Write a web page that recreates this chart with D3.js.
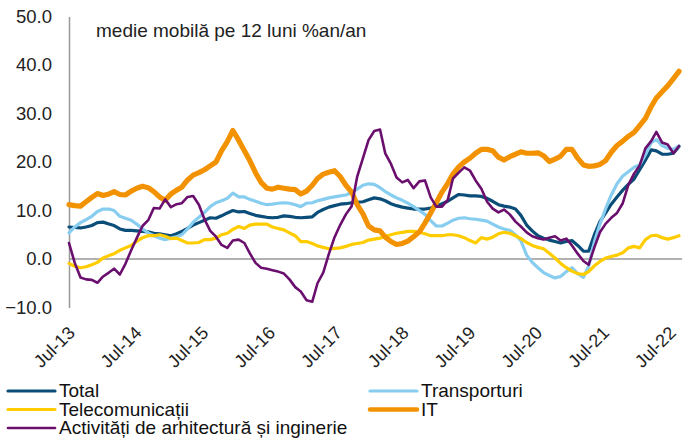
<!DOCTYPE html>
<html>
<head>
<meta charset="utf-8">
<script src="https://cdn.jsdelivr.net/npm/d3@7"></script>
<style>
  body { margin: 0; background: #fff; }
  svg { display: block; font-family: "Liberation Sans", Arial, sans-serif; }
</style>
</head>
<body>
<svg id="chart" width="682" height="441"></svg>
<script>
// monthly data, Jul-13 .. Jul-22 (109 months)
const startMonth = new Date(2013, 6, 1);
const tickLabels = ["Jul-13", "Jul-14", "Jul-15", "Jul-16", "Jul-17", "Jul-18", "Jul-19", "Jul-20", "Jul-21", "Jul-22"];
const yTicks = [-10, 0, 10, 20, 30, 40, 50];

const total = [6.6, 6.5, 6.4, 6.6, 6.9, 7.5, 7.6, 7.2, 6.9, 6.2, 5.9, 5.9, 5.8, 5.7, 5.6, 5.3, 5.2, 5.0, 4.8, 5.2,
  5.7, 6.3, 7.0, 7.5, 8.0, 8.5, 8.4, 8.9, 9.5, 10.0, 9.7, 9.8, 9.4, 9.0, 8.8, 8.6, 8.5, 8.6, 8.9, 8.8,
  8.6, 8.5, 8.6, 8.7, 9.6, 10.2, 10.7, 11.0, 11.3, 11.4, 11.6, 11.7, 11.8, 12.2, 12.6, 12.4, 12.0, 11.4, 11.0, 10.7,
  10.5, 10.3, 10.3, 10.3, 10.5, 10.9, 11.4, 11.9, 12.6, 13.3, 13.2, 13.0, 13.0, 12.9, 12.5, 11.9, 11.2, 10.9, 10.7, 10.3,
  9.0, 7.0, 5.8, 4.8, 4.3, 3.9, 3.6, 3.3, 3.6, 3.8, 2.8, 1.6, 1.6, 5.0, 7.7, 9.5, 11.3, 12.8, 14.2, 15.4,
  16.5, 18.4, 20.4, 22.5, 22.3, 21.6, 21.6, 21.8, 23.2];

const transporturi = [5.4, 6.6, 7.5, 8.1, 8.8, 9.8, 10.3, 10.3, 10.0, 8.8, 8.4, 8.0, 7.2, 6.2, 5.4, 4.8, 4.3, 4.0, 4.3, 4.6,
  5.0, 6.2, 7.6, 8.6, 9.6, 10.8, 11.6, 12.0, 12.5, 13.6, 12.8, 12.8, 12.3, 11.9, 11.5, 11.2, 11.3, 11.5, 11.6, 11.5,
  11.2, 10.8, 11.5, 11.6, 12.0, 12.3, 12.6, 12.8, 13.0, 13.2, 13.7, 14.4, 15.2, 15.5, 15.4, 14.7, 13.9, 13.2, 12.6, 12.1,
  11.5, 10.8, 10.0, 9.2, 7.9, 6.8, 6.8, 7.4, 8.0, 8.4, 8.5, 8.3, 8.2, 8.0, 7.8, 7.2, 6.6, 6.2, 5.9, 5.0,
  3.8, 0.8, -0.7, -1.8, -2.8, -3.4, -3.9, -3.6, -2.6, -1.8, -3.0, -3.8, -1.5, 3.5, 7.2, 10.4, 13.2, 15.5, 17.1, 18.0,
  18.9, 19.4, 21.5, 24.0, 24.6, 23.4, 22.8, 22.6, 23.3];

const telecomunicatii = [-0.9, -1.5, -1.8, -1.6, -1.2, -0.7, 0.2, 0.7, 1.1, 1.8, 2.3, 2.8, 3.6, 4.4, 4.8, 4.8, 5.0, 4.7, 4.2, 4.3,
  3.8, 3.3, 3.3, 3.4, 4.0, 4.0, 4.3, 5.0, 5.3, 6.1, 6.7, 6.3, 7.0, 7.2, 7.2, 7.2, 6.6, 6.3, 6.0, 5.4,
  4.8, 3.6, 3.6, 3.2, 2.7, 2.4, 2.1, 2.2, 2.3, 2.6, 3.0, 3.2, 3.4, 3.9, 4.1, 4.3, 4.7, 5.0, 5.3, 5.5,
  5.7, 5.7, 5.5, 5.2, 4.8, 4.8, 4.8, 5.0, 5.0, 4.8, 4.4, 3.8, 3.3, 4.4, 4.1, 4.5, 5.2, 5.5, 5.3, 4.8,
  4.2, 3.4, 2.8, 2.4, 2.1, 1.2, 0.2, -0.9, -1.8, -2.5, -3.0, -3.2, -2.6, -1.4, -0.5, 0.2, 0.5, 0.8, 1.3, 2.3,
  2.6, 2.3, 4.0, 4.8, 4.9, 4.4, 4.1, 4.4, 4.8];

const it = [11.2, 11.0, 10.9, 11.8, 12.7, 13.5, 13.1, 13.4, 13.9, 13.3, 13.2, 14.0, 14.6, 15.0, 14.7, 13.9, 12.8, 12.1, 13.4, 14.2,
  14.8, 16.3, 17.3, 17.8, 18.4, 19.2, 20.0, 22.3, 24.2, 26.5, 24.5, 22.3, 20.3, 17.8, 15.8, 14.6, 14.4, 14.8, 14.6, 14.4,
  14.3, 13.4, 14.0, 15.2, 16.6, 17.5, 17.9, 18.2, 17.0, 15.2, 13.8, 11.2, 9.3, 6.8, 6.0, 5.8, 4.5, 3.6, 3.0, 3.2,
  3.7, 4.6, 5.6, 7.4, 9.5, 11.6, 13.8, 15.6, 17.5, 19.0, 20.0, 20.8, 21.8, 22.6, 22.6, 22.3, 21.0, 20.4, 21.1, 21.6,
  22.1, 21.8, 21.8, 21.9, 21.3, 20.1, 20.6, 21.2, 22.6, 22.6, 20.8, 19.4, 19.1, 19.2, 19.5, 20.3, 22.0, 23.4, 24.3, 25.3,
  26.1, 27.5, 29.0, 31.4, 33.2, 34.5, 35.7, 37.2, 38.7];

const arhitectura = [3.3, -0.8, -3.8, -4.2, -4.3, -4.9, -3.6, -2.8, -2.0, -3.2, -1.0, 1.8, 4.3, 6.8, 8.0, 10.5, 10.4, 12.3, 10.7, 11.3,
  11.5, 12.8, 13.0, 11.2, 8.2, 5.8, 4.6, 2.9, 2.3, 3.8, 4.0, 3.3, 1.2, -0.8, -1.8, -2.0, -2.3, -2.6, -3.0, -4.2,
  -5.8, -6.7, -8.5, -8.8, -5.0, -2.8, 1.0, 4.5, 7.0, 9.2, 10.9, 17.0, 20.8, 24.5, 26.4, 26.7, 21.8, 19.6, 16.8, 15.8,
  16.3, 14.6, 16.0, 16.2, 12.7, 10.8, 10.8, 12.2, 16.6, 17.8, 18.9, 18.2, 16.2, 14.5, 11.8, 10.4, 9.6, 10.2, 9.2, 7.7,
  6.7, 5.5, 4.7, 4.3, 4.0, 4.4, 4.7, 3.8, 4.2, 2.8, 1.1, -0.4, -1.2, 2.4, 5.5, 7.3, 8.5, 9.5, 11.5, 15.3,
  17.6, 19.3, 22.8, 24.3, 26.2, 24.0, 23.6, 21.8, 23.3];

const seriesNames = ["Total", "Transporturi", "Telecomunicații", "IT", "Activități de arhitectură și inginerie"];
const seriesColors = ["#0a4d78", "#87cdf0", "#ffcc00", "#f39200", "#6b0f6f"];
const seriesWidths = [3.2, 3.2, 3.2, 5.2, 2.6];
const seriesValues = [total, transporturi, telecomunicatii, it, arhitectura];

const svg = d3.select("#chart");

const x = d3.scaleTime()
  .domain([startMonth, d3.timeMonth.offset(startMonth, 108)])
  .range([69, 679]);

const y = d3.scaleLinear()
  .domain([-10, 50])
  .range([307.5, 16.5]);

// rotated category labels sit on their own slightly narrower band
const xLabel = d3.scalePoint()
  .domain(tickLabels)
  .range([76, 677]);

// y axis
const yAxis = svg.append("g")
  .attr("transform", "translate(69,0)")
  .call(d3.axisLeft(y).tickValues(yTicks).tickSize(0).tickPadding(17).tickFormat(d3.format(".1f")));
yAxis.select(".domain").attr("stroke", "#999").attr("stroke-width", 1.5);
yAxis.selectAll("text")
  .attr("fill", "#222")
  .style("font-size", "18.5px")
  .style("font-family", "Liberation Sans, Arial, sans-serif");

// zero line
svg.append("line")
  .attr("x1", 69).attr("x2", 682)
  .attr("y1", y(0)).attr("y2", y(0))
  .attr("stroke", "#999").attr("stroke-width", 1.5);

// x labels
svg.append("g")
  .selectAll("text")
  .data(tickLabels)
  .join("text")
  .attr("transform", d => `translate(${xLabel(d)},${334}) rotate(-45)`)
  .attr("text-anchor", "end")
  .attr("fill", "#222")
  .style("font-size", "18px")
  .text(d => d);

// lines
const line = d3.line()
  .x((d, i) => x(d3.timeMonth.offset(startMonth, i)))
  .y(d => y(d));

svg.append("g")
  .selectAll("path")
  .data(seriesValues)
  .join("path")
  .attr("fill", "none")
  .attr("stroke", (d, i) => seriesColors[i])
  .attr("stroke-width", (d, i) => seriesWidths[i])
  .attr("stroke-linejoin", "round")
  .attr("stroke-linecap", "round")
  .attr("d", line);

// title
svg.append("text")
  .attr("x", 96).attr("y", 37)
  .attr("fill", "#222")
  .style("font-size", "19px")
  .text("medie mobilă pe 12 luni %an/an");

// legend
const legendPos = [[8, 391], [370, 391], [8, 409.5], [370, 409.5], [8, 428]];
const legend = svg.append("g")
  .selectAll("g")
  .data(seriesNames)
  .join("g")
  .attr("transform", (d, i) => `translate(${legendPos[i][0]},${legendPos[i][1]})`);

legend.append("line")
  .attr("x1", 0).attr("x2", 47)
  .attr("stroke", (d, i) => seriesColors[i])
  .attr("stroke-width", (d, i) => Math.min(seriesWidths[i], 4.5))
  .attr("stroke-linecap", "round");

legend.append("text")
  .attr("x", 51).attr("y", 6)
  .attr("fill", "#111")
  .style("font-size", "19px")
  .text(d => d);
</script>
</body>
</html>
